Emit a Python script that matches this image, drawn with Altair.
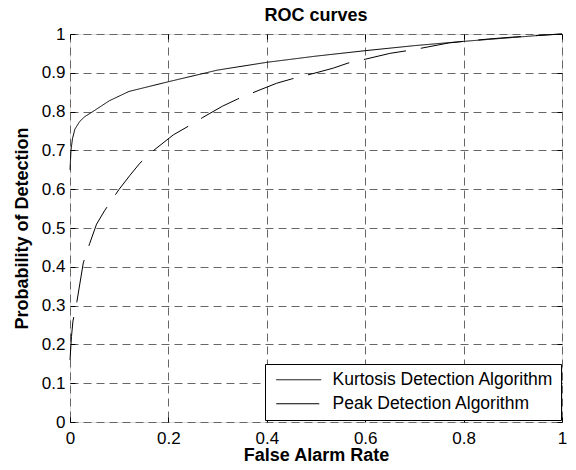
import altair as alt
import pandas as pd

# Kurtosis Detection Algorithm (solid)
kurt_x = [0, 0.002, 0.005, 0.01, 0.02, 0.03, 0.05, 0.08, 0.12, 0.2, 0.3, 0.4, 0.5,
          0.6, 0.7, 0.8, 0.9, 0.97, 1.0]
kurt_y = [0.65, 0.70, 0.73, 0.755, 0.775, 0.787, 0.803, 0.828, 0.852, 0.877, 0.907,
          0.927, 0.943, 0.957, 0.970, 0.981, 0.991, 0.998, 1.0]

# Peak Detection Algorithm (dashed)
peak_x = [0, 0.003, 0.006, 0.014, 0.027, 0.04, 0.054, 0.071, 0.1, 0.122, 0.142, 0.17,
          0.21, 0.24, 0.27, 0.31, 0.34, 0.386, 0.42, 0.45, 0.5, 0.535, 0.565, 0.6,
          0.65, 0.7, 0.77, 0.8, 0.85, 0.9, 0.95, 1.0]
peak_y = [0.16, 0.22, 0.26, 0.31, 0.41, 0.46, 0.51, 0.546, 0.6, 0.636, 0.667, 0.70,
          0.74, 0.762, 0.785, 0.814, 0.832, 0.856, 0.873, 0.884, 0.90, 0.912, 0.925,
          0.935, 0.95, 0.96, 0.977, 0.981, 0.987, 0.992, 0.996, 1.0]

series_names = ["Kurtosis Detection Algorithm", "Peak Detection Algorithm"]
x_ticks = [0, 0.2, 0.4, 0.6, 0.8, 1.0]
y_ticks = [0, 0.1, 0.2, 0.3, 0.4, 0.5, 0.6, 0.7, 0.8, 0.9, 1.0]

df = pd.concat([
    pd.DataFrame({"x": kurt_x, "y": kurt_y, "series": series_names[0]}),
    pd.DataFrame({"x": peak_x, "y": peak_y, "series": series_names[1]}),
])

FONT = "Liberation Sans"
xs = alt.Scale(domain=[0, 1], nice=False, zero=False)
ys = alt.Scale(domain=[0, 1], nice=False, zero=False)

# Main layer: curves, grid, labels, titles
x_main = alt.X("x:Q", scale=xs, axis=alt.Axis(
    orient="bottom", values=x_ticks, format="~g", grid=True, ticks=False, tickSize=0,
    domain=False, labelFlush=False, labelOverlap=False, labelPadding=21,
    labelBaseline="alphabetic", labelFont=FONT, labelFontSize=17, labelColor="black",
    title="False Alarm Rate", titleFont=FONT, titleFontSize=18, titleFontWeight="bold",
    titleColor="black", titleBaseline="alphabetic", titleY=38, titleX=246,
    gridColor="#666666", gridDash=[8, 5], gridWidth=1, gridOpacity=1))
y_main = alt.Y("y:Q", scale=ys, axis=alt.Axis(
    orient="left", values=y_ticks, format="~g", grid=True, ticks=False, tickSize=0,
    domain=False, labelFlush=False, labelOverlap=False, labelPadding=5,
    labelFont=FONT, labelFontSize=17, labelColor="black",
    title="Probability of Detection", titleFont=FONT, titleFontSize=18,
    titleFontWeight="bold", titleColor="black", titleBaseline="alphabetic",
    titleAngle=270, titleX=-43, titleY=194,
    gridColor="#666666", gridDash=[8, 5], gridWidth=1, gridOpacity=1))

lines = alt.Chart(df).mark_line(strokeWidth=1).encode(
    x=x_main,
    y=y_main,
    color=alt.Color("series:N", sort=series_names,
                    scale=alt.Scale(domain=series_names, range=["black", "black"]),
                    legend=alt.Legend(
                        title=None, orient="none", legendX=195, legendY=330,
                        symbolType="M-1,0H9", symbolSize=81, symbolStrokeWidth=1,
                        symbolStrokeColor="black", labelOffset=43, labelLimit=400,
                        labelFont=FONT, labelFontSize=17.5, labelColor="black",
                        padding=7, rowPadding=5, strokeColor="black",
                        fillColor="white", cornerRadius=0)),
    strokeDash=alt.StrokeDash("series:N", sort=series_names,
                              scale=alt.Scale(domain=series_names,
                                              range=[[1, 0], [43, 15]]),
                              legend=None),
    order=alt.Order("x:Q"),
)


def tick_axis(orient, vals):
    return alt.Axis(orient=orient, values=vals, ticks=True, tickSize=5, offset=-5,
                    labels=False, domain=False, grid=False, title=None,
                    tickColor="black", tickWidth=1, minExtent=0, maxExtent=0)


ticks_bl = alt.Chart(df).mark_point(opacity=0, size=1).encode(
    x=alt.X("x:Q", scale=xs, axis=tick_axis("bottom", x_ticks)),
    y=alt.Y("y:Q", scale=ys, axis=tick_axis("left", y_ticks)),
)
ticks_tr = alt.Chart(df).mark_point(opacity=0, size=1).encode(
    x=alt.X("x:Q", scale=xs, axis=tick_axis("top", x_ticks)),
    y=alt.Y("y:Q", scale=ys, axis=tick_axis("right", y_ticks)),
)

chart = alt.layer(lines, ticks_bl, ticks_tr).resolve_axis(
    x="independent", y="independent"
).properties(
    width=492, height=388,
    autosize=alt.AutoSizeParams(type="none"),
    padding={"left": 62, "top": 26, "right": 6, "bottom": 40},
    title=alt.TitleParams("ROC curves", font=FONT, fontSize=18, fontWeight="bold",
                          color="black", anchor="middle", offset=3, dy=17,
                          baseline="alphabetic"),
).configure_view(stroke="black", strokeWidth=1.4).configure(background="white")

chart.save("out.html", embed_options={"renderer": "svg", "actions": False})
